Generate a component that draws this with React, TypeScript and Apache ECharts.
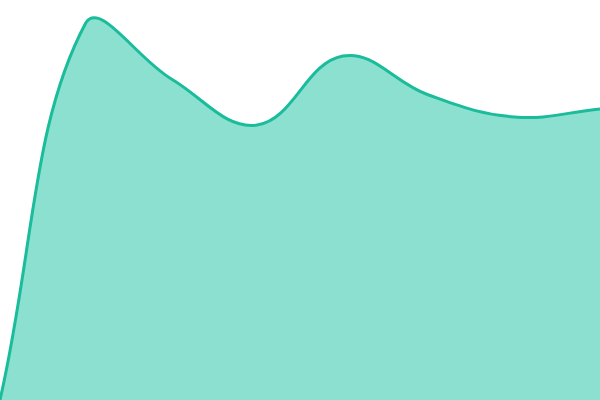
import { useEffect, useRef } from 'react';
import * as echarts from 'echarts';

const categories = ['1', '2', '3', '4', '5', '6', '7', '8'];
const values = [0, 377, 321, 275, 344, 305, 283, 291];

const LINE = '#1abc9c';
const FILL = '#8be0cf';
const TENSION = 0.4;

// spline through the points (tension based), control points kept inside the plot area
function splinePath(pts: number[][], area: { x: number; y: number; width: number; height: number }) {
  const n = pts.length;
  const prevCp: number[][] = [];
  const nextCp: number[][] = [];
  for (let i = 0; i < n; i++) {
    const p = pts[i];
    const a = pts[i - 1] || p;
    const b = pts[i + 1] || p;
    const d01 = Math.hypot(p[0] - a[0], p[1] - a[1]);
    const d12 = Math.hypot(b[0] - p[0], b[1] - p[1]);
    let s01 = d01 / (d01 + d12);
    let s12 = d12 / (d01 + d12);
    s01 = isNaN(s01) ? 0 : s01;
    s12 = isNaN(s12) ? 0 : s12;
    const fa = TENSION * s01;
    const fb = TENSION * s12;
    prevCp.push([p[0] - fa * (b[0] - a[0]), p[1] - fa * (b[1] - a[1])]);
    nextCp.push([p[0] + fb * (b[0] - a[0]), p[1] + fb * (b[1] - a[1])]);
  }
  const cap = (c: number[]) => [
    Math.min(Math.max(c[0], area.x), area.x + area.width),
    Math.min(Math.max(c[1], area.y), area.y + area.height),
  ];
  let d = `M${pts[0][0]},${pts[0][1]}`;
  for (let i = 0; i < n - 1; i++) {
    const c1 = cap(nextCp[i]);
    const c2 = cap(prevCp[i + 1]);
    const q = pts[i + 1];
    d += ` C${c1[0]},${c1[1]} ${c2[0]},${c2[1]} ${q[0]},${q[1]}`;
  }
  return d;
}

export default function App() {
  const chartRef = useRef<HTMLDivElement>(null);

  useEffect(() => {
    if (!chartRef.current) return;
    const chart = echarts.init(chartRef.current, null, { renderer: 'svg' });
    chart.setOption({
      animation: false,
      grid: { left: 0, right: 0, top: 0, bottom: 0 },
      xAxis: { type: 'category', data: categories, boundaryGap: false, show: false },
      yAxis: { type: 'value', min: 0, max: 400, show: false },
      series: [
        {
          type: 'custom',
          clip: false,
          data: values.map((v, i) => [i, v]),
          encode: { x: 0, y: 1 },
          renderItem: (params: any, api: any) => {
            if (params.dataIndex !== 0) return null;
            const pts = values.map((v, i) => api.coord([i, v]));
            const line = splinePath(pts, params.coordSys);
            const end = api.coord([values.length - 1, 0]);
            const start = api.coord([0, 0]);
            const fillPath = `${line} L${end[0]},${end[1]} L${start[0]},${start[1]} Z`;
            return {
              type: 'group',
              children: [
                { type: 'path', shape: { pathData: fillPath }, style: { fill: FILL, stroke: 'none' } },
                {
                  type: 'path',
                  shape: { pathData: line },
                  style: { fill: 'none', stroke: LINE, lineWidth: 3 },
                },
              ],
            };
          },
        },
      ],
    });
    return () => chart.dispose();
  }, []);

  return <div ref={chartRef} style={{ width: 600, height: 400, position: 'fixed', left: 0, top: 0 }} />;
}
